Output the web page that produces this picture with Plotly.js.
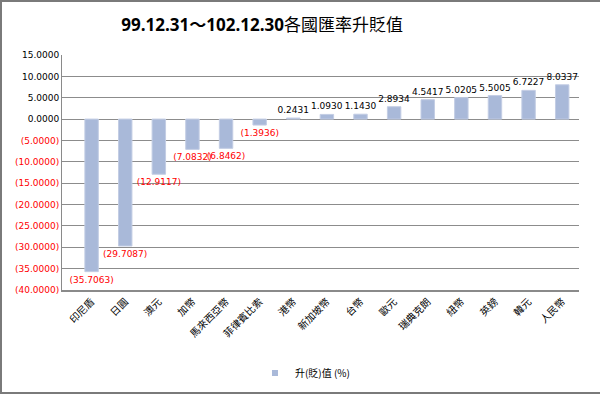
<!DOCTYPE html>
<html>
<head>
<meta charset="utf-8">
<script src="https://cdn.plot.ly/plotly-3.0.1.min.js"></script>
<style>
html,body{margin:0;padding:0;background:#fff;}
#wrap{width:600px;height:394px;box-sizing:border-box;border-top:2px solid #7a7a7a;border-left:2px solid #7a7a7a;border-bottom:2px solid #7a7a7a;}
#chart{width:598px;height:390px;}
</style>
</head>
<body>
<div id="wrap"><div id="chart"></div></div>
<script>
const categories = ["印尼盾","日圓","澳元","加幣","馬來西亞幣","菲律賓比索","港幣","新加坡幣","台幣","歐元","瑞典克朗","紐幣","英鎊","韓元","人民幣"];
const values = [-35.7063,-29.7087,-12.9117,-7.0832,-6.8462,-1.3936,0.2431,1.0930,1.1430,2.8934,4.5417,5.0205,5.5005,6.7227,8.0337];
const yTickVals = [15,10,5,0,-5,-10,-15,-20,-25,-30,-35,-40];
const seriesName = "升(貶)值 (%)";
const titleDates = "99.12.31～102.12.30";
const titleWords = "各國匯率升貶值";

const fmt = v => v < 0 ? "(" + Math.abs(v).toFixed(4) + ")" : v.toFixed(4);
const RED = "#ff0000";
const yTickText = yTickVals.map(v => v < 0 ? "<span style='color:" + RED + "'>" + fmt(v) + "</span>" : fmt(v));

const bar = {
  type: "bar",
  x: categories,
  y: values,
  width: 0.4,
  marker: {color: "#a9b9d9", line: {color: "#c3cde4", width: 1}},
  text: values.map(fmt),
  textposition: "outside",
  constraintext: "none",
  cliponaxis: false,
  textfont: {family: "DejaVu Sans", size: 9, color: values.map(v => v < 0 ? RED : "#000000")},
  showlegend: false,
  hoverinfo: "x+y"
};
const legendTrace = {
  type: "scatter",
  mode: "markers",
  x: [categories[0]],
  y: [null],
  name: seriesName,
  marker: {symbol: "square", size: 6, color: "#a9b9d9"},
  showlegend: true
};

const layout = {
  width: 598, height: 390,
  margin: {l: 60, r: 21, t: 53, b: 102},
  paper_bgcolor: "#ffffff",
  plot_bgcolor: "#ffffff",
  title: {
    text: "<b>" + titleDates + "</b>" + titleWords,
    x: 0.435, xanchor: "center",
    y: 1 - 23/390, yref: "container", yanchor: "middle",
    font: {family: "'Open Sans', 'Noto Sans CJK TC'", size: 17, color: "#000"}
  },
  xaxis: {
    type: "category",
    tickangle: -45,
    tickfont: {family: "'Noto Sans CJK TC'", size: 10, color: "#000"},
    showline: true, linecolor: "#8a8a8a", linewidth: 2,
    showgrid: false, ticks: "", zeroline: false,
    automargin: false
  },
  yaxis: {
    range: [-40, 15],
    tickvals: yTickVals,
    ticktext: yTickText,
    tickfont: {family: "DejaVu Sans", size: 9, color: "#000"},
    showgrid: true, gridcolor: "#8c8c8c", gridwidth: 1,
    zeroline: true, zerolinecolor: "#8c8c8c", zerolinewidth: 1,
    showline: true, linecolor: "#8a8a8a", linewidth: 1,
    ticks: "", automargin: false
  },
  legend: {
    orientation: "h",
    x: 0.47, xanchor: "center",
    y: 1 - 371/390, yref: "container", yanchor: "middle",
    font: {family: "'Noto Sans CJK TC'", size: 10, color: "#000"},
    itemwidth: 14
  },
  hovermode: "closest"
};

Plotly.newPlot("chart", [bar, legendTrace], layout, {displayModeBar: false, staticPlot: true});
</script>
</body>
</html>
